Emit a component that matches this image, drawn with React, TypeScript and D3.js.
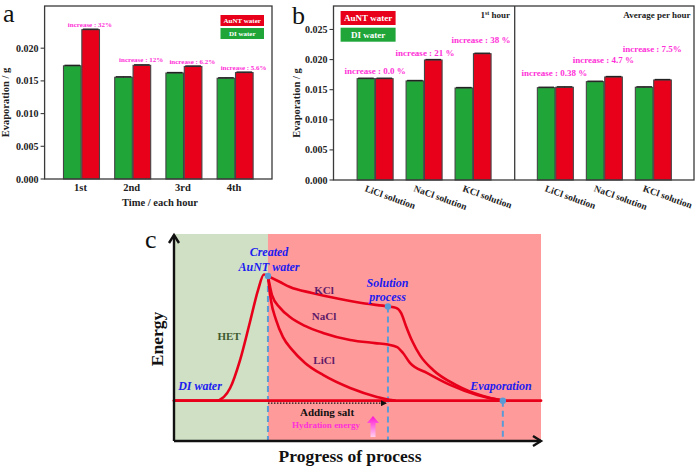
import React from 'react';
import * as d3 from 'd3';

// ---------- Panel a data ----------
const hours = ['1st', '2nd', '3rd', '4th'];
const diA = [0.0173, 0.01555, 0.0162, 0.0154];
const aunA = [0.02283, 0.01738, 0.0172, 0.01627];
const incA = ['increase : 32%', 'increase : 12%', 'increase : 6.2%', 'increase : 5.6%'];
const aTicks = [0, 0.005, 0.01, 0.015, 0.02];

// ---------- Panel b data ----------
const salts = ['LiCl solution', 'NaCl solution', 'KCl solution'];
const diB1 = [0.01683, 0.01645, 0.01528];
const aunB1 = [0.01683, 0.01993, 0.02098];
const incB1 = ['increase : 0.0 %', 'increase : 21 %', 'increase : 38 %'];
const lvlB1 = [0.01756, 0.02055, 0.02276];
const diB2 = [0.01533, 0.01633, 0.0154];
const aunB2 = [0.0154, 0.01711, 0.01661];
const incB2 = ['increase : 0.38 %', 'increase : 4.7 %', 'increase : 7.5%'];
const lvlB2 = [0.01723, 0.01944, 0.02121];
const bTicks = [0, 0.005, 0.01, 0.015, 0.02, 0.025];
const errVal = 0.00008;

// ---------- Panel c schematic (progress, energy) in arbitrary units ----------
const baseE = 19.5;
const riseCurve: [number, number][] = [
  [0, 19.5], [11.4, 19.5], [13.6, 21.3], [15.3, 25.6], [18.0, 39.1], [20.7, 57.5],
  [22.9, 72.9], [24.5, 80.4], [25.6, 79.7],
];
const kclCurve: [number, number][] = [
  [25.6, 79.7], [28.9, 76.8], [31.6, 74.4], [37.6, 71.5], [45.2, 68.6], [52.0, 66.4],
  [58.3, 65.0], [60.5, 64.3], [61.9, 61.8], [63.2, 55.6], [64.9, 48.3], [67.0, 41.5],
  [70.6, 34.3], [76.8, 27.1], [84.2, 21.7], [89.6, 19.5],
];
const naclCurve: [number, number][] = [
  [25.6, 79.7], [26.7, 70.5], [28.9, 64.3], [31.6, 59.9], [35.7, 55.6], [40.6, 52.2],
  [48.0, 48.8], [54.8, 47.3], [58.3, 46.6], [60.8, 45.4], [62.4, 42.5], [64.3, 37.7],
  [68.9, 32.9], [75.2, 27.1], [82.6, 22.2], [89.6, 19.5],
];
const liclCurve: [number, number][] = [
  [25.6, 79.7], [26.4, 68.1], [27.8, 58.5], [29.7, 50.2], [32.2, 44.0], [35.7, 37.7],
  [40.6, 31.9], [48.0, 25.6], [55.3, 21.3], [60.2, 19.5],
];
const peakPt: [number, number] = [25.6, 79.7];
const solPt: [number, number] = [58.3, 65.0];
const evapPt: [number, number] = [89.6, 19.5];

const SERIF = '"Liberation Serif", "Times New Roman", Times, serif';
const GREEN = '#1fa538';
const RED = '#e8001b';
const MAGENTA = '#ff30d8';
const BARSTROKE = '#454545';
const FRAME = '#3a3a3a';
const BLUE = '#1c1cf0';
const PURPLE = '#5e1a68';
const DASH = '#5b9bd5';

function Bars({ x, y, di, aun, keys }: any) {
  const inner = d3.scaleBand().domain(['di', 'aun']).range([-18, 18]).paddingInner(0.04);
  const bw = inner.bandwidth();
  return (
    <g>
      {keys.map((k: string, i: number) => {
        const cx = x(k);
        return (
          <g key={k}>
            {[['di', di[i], GREEN], ['aun', aun[i], RED]].map(([s, v, c]: any) => {
              const x0 = cx + (inner(s) as number);
              return (
                <g key={s}>
                  <rect x={x0} y={y(v)} width={bw} height={y(0) - y(v)} fill={c} stroke={BARSTROKE} strokeWidth={1.1} />
                  <line x1={x0 + 1} x2={x0 + bw - 1} y1={y(v + errVal)} y2={y(v + errVal)} stroke="#222" strokeWidth={1.3} />
                  <line x1={x0 + bw / 2} x2={x0 + bw / 2} y1={y(v + errVal)} y2={y(v)} stroke="#222" strokeWidth={1} />
                </g>
              );
            })}
          </g>
        );
      })}
    </g>
  );
}

function YAxis({ y, ticks, x0, fs }: any) {
  return (
    <g>
      {ticks.map((t: number) => (
        <g key={t}>
          <line x1={x0 - 4} x2={x0} y1={y(t)} y2={y(t)} stroke={FRAME} strokeWidth={1.1} />
          <text x={x0 - 6} y={y(t)} dy="0.35em" textAnchor="end" fontSize={fs} fontWeight="bold" fontFamily={SERIF} fill="#222">
            {d3.format('.3f')(t)}
          </text>
        </g>
      ))}
    </g>
  );
}

function PanelA() {
  const L = 44.6, R = 272, T = 6, B = 179;
  const x = d3.scalePoint().domain(hours).range([L, R]).padding(0.72);
  const y = d3.scaleLinear().domain([0, 0.02645]).range([B, T]);
  return (
    <g>
      <text x={3} y={22} fontSize={26} fontFamily={SERIF} fill="#111">a</text>
      <Bars x={x} y={y} di={diA} aun={aunA} keys={hours} />
      <rect x={L} y={T} width={R - L} height={B - T} fill="none" stroke={FRAME} strokeWidth={1.3} />
      <YAxis y={y} ticks={aTicks} x0={L} fs={10} />
      {hours.map((h, i) => (
        <text key={h} x={(x(h) as number) - 1} y={191} textAnchor="middle" fontSize={10.5} fontWeight="bold" fontFamily={SERIF} fill="#222">{h}</text>
      ))}
      <text x={160} y={206} textAnchor="middle" fontSize={10.5} fontWeight="bold" fontFamily={SERIF} fill="#222">Time / each hour</text>
      <text transform={`translate(9,${(T + B) / 2 + 10}) rotate(-90)`} textAnchor="middle" fontSize={10.5} fontWeight="bold" fontFamily={SERIF} fill="#222">Evaporation / g</text>
      {hours.map((h, i) => (
        <text key={h} x={(x(h) as number) + 8.5} y={y(aunA[i]) - 3} textAnchor="middle" fontSize={7} fontWeight="bold" fontFamily={SERIF} fill={MAGENTA}>{incA[i]}</text>
      ))}
      <rect x={220.5} y={15} width={43.5} height={11} fill={RED} />
      <text x={242.2} y={20.5} dy="0.35em" textAnchor="middle" fontSize={7} fontWeight="bold" fontFamily={SERIF} fill="#fff">AuNT water</text>
      <rect x={220.5} y={28} width={43.5} height={11} fill={GREEN} />
      <text x={242.2} y={33.5} dy="0.35em" textAnchor="middle" fontSize={7} fontWeight="bold" fontFamily={SERIF} fill="#fff">DI water</text>
    </g>
  );
}

function PanelB() {
  const L = 333.5, M = 514.7, R = 694, T = 6, B = 180;
  const x1 = d3.scalePoint().domain(salts).range([L, M]).padding(0.85);
  const x2 = d3.scalePoint().domain(salts).range([M, R]).padding(0.83);
  const y = d3.scaleLinear().domain([0, 0.0289]).range([B, T]);
  const shift1 = [0, 1, 8];
  return (
    <g>
      <text x={292} y={24} fontSize={26} fontFamily={SERIF} fill="#111">b</text>
      <Bars x={x1} y={y} di={diB1} aun={aunB1} keys={salts} />
      <Bars x={x2} y={y} di={diB2} aun={aunB2} keys={salts} />
      <rect x={L} y={T} width={R - L} height={B - T} fill="none" stroke={FRAME} strokeWidth={1.3} />
      <line x1={M} x2={M} y1={T} y2={B} stroke={FRAME} strokeWidth={1.3} />
      <YAxis y={y} ticks={bTicks} x0={L} fs={10} />
      <text transform={`translate(300,${(T + B) / 2 + 10}) rotate(-90)`} textAnchor="middle" fontSize={10.5} fontWeight="bold" fontFamily={SERIF} fill="#222">Evaporation / g</text>
      {[x1, x2].map((xs, j) =>
        salts.map((s) => (
          <text key={j + s} transform={`translate(${(xs(s) as number) - 11},191) rotate(20)`} fontSize={9.5} fontWeight="bold" fontFamily={SERIF} fill="#222">{s}</text>
        ))
      )}
      {salts.map((s, i) => (
        <text key={'i1' + s} x={(x1(s) as number) + shift1[i]} y={y(lvlB1[i])} textAnchor="middle" fontSize={9} fontWeight="bold" fontFamily={SERIF} fill={MAGENTA}>{incB1[i]}</text>
      ))}
      {salts.map((s, i) => (
        <text key={'i2' + s} x={(x2(s) as number) - 1} y={y(lvlB2[i])} textAnchor="middle" fontSize={9} fontWeight="bold" fontFamily={SERIF} fill={MAGENTA}>{incB2[i]}</text>
      ))}
      <text x={510} y={18} textAnchor="end" fontSize={9} fontWeight="bold" fontFamily={SERIF} fill="#222">
        1<tspan fontSize={6} dy={-3.5}>st</tspan><tspan dy={3.5}> hour</tspan>
      </text>
      <text x={690.5} y={18} textAnchor="end" fontSize={9} fontWeight="bold" fontFamily={SERIF} fill="#222">Average per hour</text>
      <rect x={340.6} y={11} width={55} height={14} fill={RED} />
      <text x={368.1} y={18} dy="0.35em" textAnchor="middle" fontSize={9} fontWeight="bold" fontFamily={SERIF} fill="#fff">AuNT water</text>
      <rect x={340.6} y={27.7} width={55} height={14} fill={GREEN} />
      <text x={368.1} y={34.7} dy="0.35em" textAnchor="middle" fontSize={9} fontWeight="bold" fontFamily={SERIF} fill="#fff">DI water</text>
    </g>
  );
}

function PanelC() {
  const L = 174, R = 541, T = 234, B = 441;
  const x = d3.scaleLinear().domain([0, 100]).range([L, R]);
  const y = d3.scaleLinear().domain([0, 100]).range([B, T]);
  const line = d3.line<[number, number]>().x((d) => x(d[0])).y((d) => y(d[1])).curve(d3.curveMonotoneX);
  const bx = x(peakPt[0]);
  const curveStyle = { fill: 'none', stroke: RED, strokeWidth: 2.6, strokeLinecap: 'round' as const };
  const blueText = { fontFamily: SERIF, fontWeight: 'bold' as const, fontStyle: 'italic' as const, fill: BLUE, fontSize: 12, textAnchor: 'middle' as const };
  const purpleText = { fontFamily: SERIF, fontWeight: 'bold' as const, fill: PURPLE, fontSize: 11, textAnchor: 'middle' as const };
  return (
    <g>
      <defs>
        <linearGradient id="hyd" x1="0" y1="1" x2="0" y2="0">
          <stop offset="0" stopColor="#ffd0f0" />
          <stop offset="1" stopColor="#ff10d0" />
        </linearGradient>
        <marker id="dotArrow" viewBox="0 0 6 6" refX="5" refY="3" markerWidth="5" markerHeight="5" orient="auto">
          <path d="M0,0 L6,3 L0,6 z" fill="#111" />
        </marker>
      </defs>
      <rect x={L} y={T} width={bx - L} height={B - T} fill="#cfe0c4" />
      <rect x={bx} y={T} width={R - bx} height={B - T} fill="#fe9a9a" />
      <text x={145} y={248} fontSize={26} fontFamily={SERIF} fill="#111">c</text>
      {/* dashed blue verticals */}
      {[peakPt, solPt, evapPt].map((p, i) => (
        <line key={i} x1={x(p[0])} x2={x(p[0])} y1={y(p[1])} y2={B} stroke={DASH} strokeWidth={2} strokeDasharray="6,4" />
      ))}
      {/* curves */}
      <line x1={x(0)} x2={R} y1={y(baseE)} y2={y(baseE)} {...curveStyle} strokeWidth={2.8} />
      <path d={line(riseCurve) || ''} {...curveStyle} />
      <path d={line(kclCurve) || ''} {...curveStyle} />
      <path d={line(naclCurve) || ''} {...curveStyle} />
      <path d={line(liclCurve) || ''} {...curveStyle} />
      {[peakPt, solPt, evapPt].map((p, i) => (
        <circle key={i} cx={x(p[0])} cy={y(p[1])} r={3.2} fill={DASH} />
      ))}
      {/* dotted arrow */}
      <line x1={bx} x2={x(solPt[0]) - 2} y1={y(baseE) + 2.5} y2={y(baseE) + 2.5} stroke="#111" strokeWidth={1.2} strokeDasharray="1.5,1.5" markerEnd="url(#dotArrow)" />
      {/* axes */}
      <line x1={L} x2={L} y1={B} y2={T + 1} stroke="#111" strokeWidth={2.4} />
      <line x1={L} x2={R} y1={B} y2={B} stroke="#111" strokeWidth={2.4} />
      <path d={`M${L - 5},${T + 9} L${L},${T + 1} L${L + 5},${T + 9}`} fill="none" stroke="#111" strokeWidth={2.4} />
      <path d={`M${R - 8},${B - 5} L${R},${B} L${R - 8},${B + 5}`} fill="none" stroke="#111" strokeWidth={2.4} />
      {/* texts */}
      <text x={269} y={256} {...blueText}>Created</text>
      <text x={269} y={271} {...blueText}>AuNT water</text>
      <text x={387.5} y={287} {...blueText}>Solution</text>
      <text x={387.5} y={301} {...blueText}>process</text>
      <text x={200} y={390} {...blueText}>DI water</text>
      <text x={501} y={390} {...blueText}>Evaporation</text>
      <text x={324} y={294} {...purpleText}>KCl</text>
      <text x={324} y={320} {...purpleText}>NaCl</text>
      <text x={324} y={364} {...purpleText}>LiCl</text>
      <text x={229} y={339.5} fontSize={11} fontWeight="bold" fontFamily={SERIF} fill="#3e5a30" textAnchor="middle">HET</text>
      <text x={327} y={415.5} fontSize={11} fontWeight="bold" fontFamily={SERIF} fill="#111" textAnchor="middle">Adding salt</text>
      <text x={326} y={427.5} fontSize={9} fontWeight="bold" fontFamily={SERIF} fill={MAGENTA} textAnchor="middle">Hydration energy</text>
      <path d="M370.5,437 L370.5,423 L367,423 L373,416 L379,423 L375.5,423 L375.5,437 Z" fill="url(#hyd)" />
      <text transform={`translate(163,339) rotate(-90)`} textAnchor="middle" fontSize={17.5} fontWeight="bold" fontFamily={SERIF} fill="#111">Energy</text>
      <text x={350} y={462} textAnchor="middle" fontSize={17.5} fontWeight="bold" fontFamily={SERIF} fill="#111">Progress of process</text>
    </g>
  );
}

export default function App() {
  return (
    <svg width={700} height={467} viewBox="0 0 700 467" style={{ position: 'absolute', left: 0, top: 0, background: '#fff' }}>
      <rect width={700} height={467} fill="#fff" />
      <PanelA />
      <PanelB />
      <PanelC />
    </svg>
  );
}
